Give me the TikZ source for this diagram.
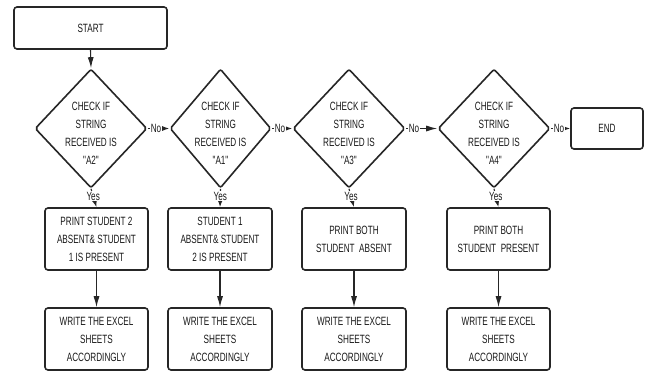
\documentclass[tikz,border=0pt]{standalone}
\usepackage{fontspec}
\setmainfont{Liberation Sans}
\newfontfamily\narrowfont[FakeStretch=0.68]{Liberation Sans}
\usetikzlibrary{shapes.geometric,arrows.meta}

\begin{document}
\begin{tikzpicture}[x=1pt,y=-1pt,
  every node/.style={font=\narrowfont\fontsize{12}{18}\selectfont, text=black!90},
  shapeline/.style={draw=black!85, line width=1.6pt},
  box/.style={shapeline, rounded corners=3pt, inner sep=0pt, align=center},
  dia/.style={shapeline, diamond, inner sep=0pt, rounded corners=2pt},
  dtext/.style={align=center, inner sep=0pt},
  arr/.style={draw=black!85, line width=1.1pt, -{Latex[length=11pt,width=6pt]}},
  smallarr/.style={draw=black!85, line width=1.1pt, -{Latex[length=7pt,width=5pt]}},
  nolbl/.style={pos=0, anchor=west, xshift=2pt, fill=white, inner sep=0.5pt},
  yeslbl/.style={pos=0.4, fill=white, inner sep=0.5pt}
]
\useasboundingbox[fill=white] (0,0) rectangle (648,372);

% start and end terminals
\node[box, minimum width=153pt, minimum height=42pt] (start) at (90.5,28) {START};
\node[box, minimum width=72pt, minimum height=41pt] (end) at (607,128.5) {END};

% decisions
\node[dia, minimum width=112pt, minimum height=119pt] (d1) at (91,128.5) {};
\node[dia, minimum width=101pt, minimum height=119pt] (d2) at (220.5,128.5) {};
\node[dia, minimum width=112pt, minimum height=119pt] (d3) at (349,128.5) {};
\node[dia, minimum width=112pt, minimum height=119pt] (d4) at (494,128.5) {};
\node[dtext] (t1) at (91,133) {CHECK IF\\STRING\\RECEIVED IS\\"A2"};
\node[dtext] (t2) at (220.5,133) {CHECK IF\\STRING\\RECEIVED IS\\"A1"};
\node[dtext] (t3) at (349,133) {CHECK IF\\STRING\\RECEIVED IS\\"A3"};
\node[dtext] (t4) at (494,133) {CHECK IF\\STRING\\RECEIVED IS\\"A4"};

% actions
\node[box, minimum width=103pt, minimum height=62pt] (b1) at (96.5,239) {PRINT STUDENT 2\\ABSENT\& STUDENT\\1 IS PRESENT};
\node[box, minimum width=104pt, minimum height=62pt] (b2) at (220,239) {STUDENT 1\\ABSENT\& STUDENT\\2 IS PRESENT};
\node[box, minimum width=104pt, minimum height=62pt] (b3) at (354,239) {PRINT BOTH\\STUDENT\ \ ABSENT};
\node[box, minimum width=103pt, minimum height=62pt] (b4) at (498.5,239) {PRINT BOTH\\STUDENT\ \ PRESENT};

% writing the sheets
\node[box, minimum width=103pt, minimum height=62pt] (c1) at (96.5,339) {WRITE THE EXCEL\\SHEETS\\ACCORDINGLY};
\node[box, minimum width=104pt, minimum height=62pt] (c2) at (220,339) {WRITE THE EXCEL\\SHEETS\\ACCORDINGLY};
\node[box, minimum width=104pt, minimum height=62pt] (c3) at (354,339) {WRITE THE EXCEL\\SHEETS\\ACCORDINGLY};
\node[box, minimum width=103pt, minimum height=62pt] (c4) at (498.5,339) {WRITE THE EXCEL\\SHEETS\\ACCORDINGLY};

% connectors
\draw[arr] (start.south) -- (d1.north);
\draw[smallarr] (d1.east) -- (d2.west) node[nolbl] {No};
\draw[smallarr] (d2.east) -- (d3.west) node[nolbl] {No};
\draw[arr] (d3.east) -- (d4.west) node[nolbl] {No};
\draw[smallarr] (d4.east) -- (end.west) node[nolbl] {No};

\foreach \i in {1,2,3,4}{
  \draw[smallarr] (d\i.south) -- node[yeslbl] {Yes} (b\i.north);
  \draw[arr] (b\i.south) -- (c\i.north);
}
\end{tikzpicture}
\end{document}
